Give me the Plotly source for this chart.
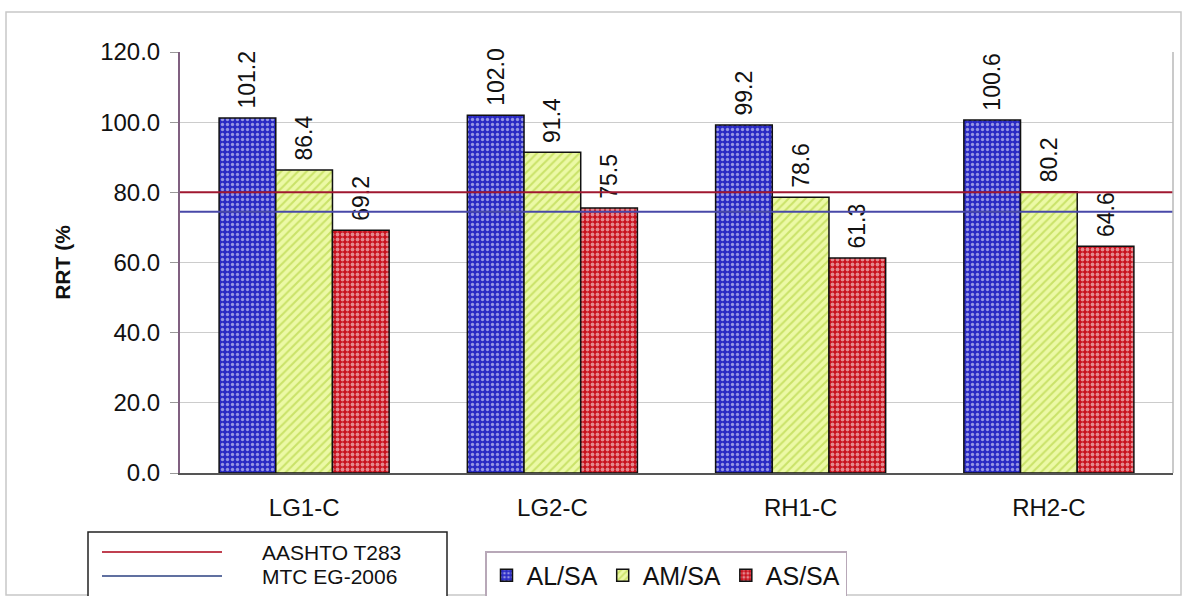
import plotly.graph_objects as go

# Sample groups and RRT ratios (%)
categories = ["LG1-C", "LG2-C", "RH1-C", "RH2-C"]
al_sa = [101.2, 102.0, 99.2, 100.6]
am_sa = [86.4, 91.4, 78.6, 80.2]
as_sa = [69.2, 75.5, 61.3, 64.6]

# Specification limits
aashto_limit = 80.0
mtc_limit = 74.5
limit_names = ["AASHTO T283", "MTC EG-2006"]

y_ticks = [0, 20, 40, 60, 80, 100, 120]

W, H = 1183, 596
ML, MR, MT, MB = 180, 10, 52, 123
PW, PH = W - ML - MR, H - MT - MB


def px_x(x):
    return (x - ML) / PW


def px_y(y):
    return (H - MB - y) / PH


FONT = "Arial, Liberation Sans, sans-serif"
NBSP = "\u00a0"

fig = go.Figure()

series = [
    ("AL/SA", al_sa, dict(shape=".", fgcolor="#ffffff", bgcolor="#2a2ac4", size=5, solidity=0.35)),
    ("AM/SA", am_sa, dict(shape="/", fgcolor="#a8cc2c", bgcolor="#ecf9a6", size=6, solidity=0.35)),
    ("AS/SA", as_sa, dict(shape=".", fgcolor="#ffffff", bgcolor="#c8101c", size=5, solidity=0.45)),
]

for name, vals, pat in series:
    fig.add_trace(go.Bar(
        x=categories, y=vals, name=name,
        marker=dict(color=pat["bgcolor"], pattern=pat,
                    line=dict(color="#111111", width=1.5)),
        text=[NBSP + f"{v:.1f}" for v in vals],
        textposition="outside", textangle=-90,
        textfont=dict(family=FONT, size=23, color="#111111"),
        cliponaxis=False, constraintext="none",
        legend="legend2",
    ))

# Limit lines across the full plot width
fig.add_shape(type="line", xref="paper", x0=0, x1=1, yref="y",
              y0=aashto_limit, y1=aashto_limit,
              line=dict(color="#a01830", width=2))
fig.add_shape(type="line", xref="paper", x0=0, x1=1, yref="y",
              y0=mtc_limit, y1=mtc_limit,
              line=dict(color="#4848a8", width=2))

# Right edge of the plot area
fig.add_shape(type="line", xref="paper", yref="paper", x0=1, x1=1, y0=0, y1=1,
              line=dict(color="#b8b8b8", width=1.5))

# Outer chart frame
fig.add_shape(type="rect", xref="paper", yref="paper",
              x0=px_x(6), x1=px_x(1181), y0=px_y(595), y1=px_y(12),
              line=dict(color="#c8c8c8", width=1.5), layer="below")

# Legend box for the limit lines
fig.add_shape(type="rect", xref="paper", yref="paper",
              x0=px_x(88), x1=px_x(447), y0=px_y(600), y1=px_y(532),
              line=dict(color="#222222", width=1.5), fillcolor="white")
for name, yy, col in [(limit_names[0], 552, "#c04050"), (limit_names[1], 576, "#6070a0")]:
    fig.add_shape(type="line", xref="paper", yref="paper",
                  x0=px_x(102), x1=px_x(222), y0=px_y(yy), y1=px_y(yy),
                  line=dict(color=col, width=2))
    fig.add_annotation(xref="paper", yref="paper", x=px_x(260), y=px_y(yy),
                       xanchor="left", yanchor="middle", showarrow=False,
                       text=name, font=dict(family=FONT, size=21, color="#111111"))

fig.update_layout(
    width=W, height=H,
    margin=dict(l=ML, r=MR, t=MT, b=MB, autoexpand=False),
    paper_bgcolor="white", plot_bgcolor="white",
    barmode="group", bargap=0.315, bargroupgap=0,
    font=dict(family=FONT, color="#111111"),
    legend2=dict(
        orientation="h", x=px_x(485), y=px_y(551), xanchor="left", yanchor="top",
        bordercolor="#b8a8b8", borderwidth=1.5, bgcolor="white",
        font=dict(family=FONT, size=25, color="#111111"),
        itemwidth=30, tracegroupgap=0,
    ),
    showlegend=True,
)

fig.update_xaxes(
    showline=True, linecolor="#555555", linewidth=1.5,
    ticks="", tickfont=dict(family=FONT, size=24, color="#111111"),
    ticklabelstandoff=12,
    showgrid=False, automargin=False,
)
fig.update_yaxes(
    range=[0, 120], tickvals=y_ticks, tickformat=".1f",
    showline=True, linecolor="#806080", linewidth=2,
    ticks="outside", ticklen=8, tickcolor="#999999",
    tickfont=dict(family=FONT, size=24, color="#111111"),
    ticklabelstandoff=5,
    showgrid=True, gridcolor="#cccccc", gridwidth=1,
    zeroline=False, automargin=False,
    title=dict(text="<b>RRT (%</b>", font=dict(family=FONT, size=21, color="#111111"),
               standoff=24),
)

fig.write_html("out.html")
